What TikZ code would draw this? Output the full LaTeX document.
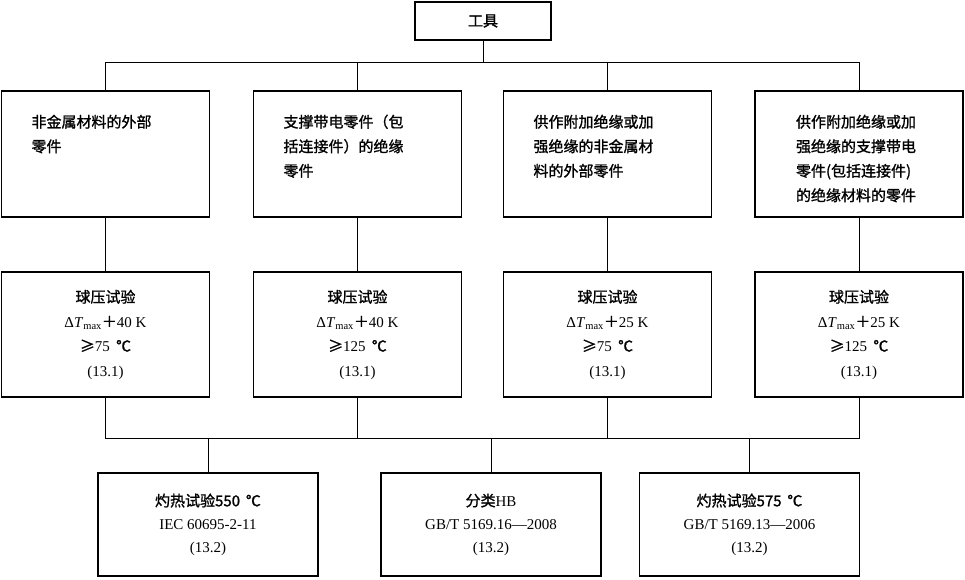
\documentclass[tikz,border=0pt]{standalone}
\usepackage{fontspec}
\setmainfont{Liberation Serif}
\newfontfamily\cjk[FakeBold=1.2]{Noto Sans CJK SC}
\newcommand\dT[1]{Δ\textit{T}\textsubscript{max}{\cjk ＋}#1 K}

\tikzset{
  box/.style={draw, line width=1.4pt, inner sep=0pt, align=center,
    font=\fontsize{15}{24.5}\selectfont},
  partbox/.style={box, align=left, text width=148pt, inner xsep=30pt,
    inner ysep=10pt, text height=26.5pt, text depth=79.5pt},
  testbox/.style={box, minimum width=208pt, minimum height=125pt},
  endbox/.style={box, minimum width=220pt, minimum height=103pt,
    font=\fontsize{15}{23}\selectfont},
  conn/.style={line width=0.8pt},
}

\begin{document}
\begin{tikzpicture}[x=1pt, y=-1pt]
    \useasboundingbox (0, 0) rectangle (965, 579);
    \path (483,  21) node [box, minimum width=136pt, minimum height=38pt] (tool) {\cjk 工具};

    \path (105.5, 154) node [partbox] (part1) {\cjk 非金属材料的外部\\零件};
    \path (357.5, 154) node [partbox] (part2) {\cjk 支撑带电零件（包\\括连接件）的绝缘\\零件};
    \path (607.5, 154) node [partbox] (part3) {\cjk 供作附加绝缘或加\\强绝缘的非金属材\\料的外部零件};
    \path (859,   154) node [partbox, text width=126pt, inner xsep=41pt] (part4) {\cjk 供作附加绝缘或加\\强绝缘的支撑带电\\零件(包括连接件)\\的绝缘材料的零件};

    \path (105.5, 334.5) node [testbox] (ball1) {{\cjk 球压试验}\\\dT{40}\\{\cjk ≥}75\, {\cjk ℃}\\(13.1)};
    \path (357.5, 334.5) node [testbox] (ball2) {{\cjk 球压试验}\\\dT{40}\\{\cjk ≥}125\, {\cjk ℃}\\(13.1)};
    \path (607.5, 334.5) node [testbox] (ball3) {{\cjk 球压试验}\\\dT{25}\\{\cjk ≥}75\, {\cjk ℃}\\(13.1)};
    \path (859,   334.5) node [testbox] (ball4) {{\cjk 球压试验}\\\dT{25}\\{\cjk ≥}125\, {\cjk ℃}\\(13.1)};

    \path (208,   524.5) node [endbox] (glow1) {{\cjk 灼热试验550\, ℃}\\IEC 60695-2-11\\(13.2)};
    \path (491,   524.5) node [endbox] (class) {{\cjk 分类}HB\\GB/T 5169.16—2008\\(13.2)};
    \path (749.5, 524.5) node [endbox] (glow2) {{\cjk 灼热试验575\, ℃}\\GB/T 5169.13—2006\\(13.2)};

    % upper bus
    \coordinate (bus1) at (0, 62);
    \draw [conn] (tool.south) -- (tool.south |- bus1);
    \draw [conn] (part1.north) |- (part4.north |- bus1) -- (part4.north);
    \draw [conn] (part2.north) -- (part2.north |- bus1);
    \draw [conn] (part3.north) -- (part3.north |- bus1);

    \draw [conn] (part1) -- (ball1);
    \draw [conn] (part2) -- (ball2);
    \draw [conn] (part3) -- (ball3);
    \draw [conn] (part4) -- (ball4);

    % lower bus
    \coordinate (bus2) at (0, 438);
    \draw [conn] (ball1.south) |- (ball4.south |- bus2) -- (ball4.south);
    \draw [conn] (ball2.south) -- (ball2.south |- bus2);
    \draw [conn] (ball3.south) -- (ball3.south |- bus2);
    \draw [conn] (glow1.north) -- (glow1.north |- bus2);
    \draw [conn] (class.north) -- (class.north |- bus2);
    \draw [conn] (glow2.north) -- (glow2.north |- bus2);
\end{tikzpicture}
\end{document}
